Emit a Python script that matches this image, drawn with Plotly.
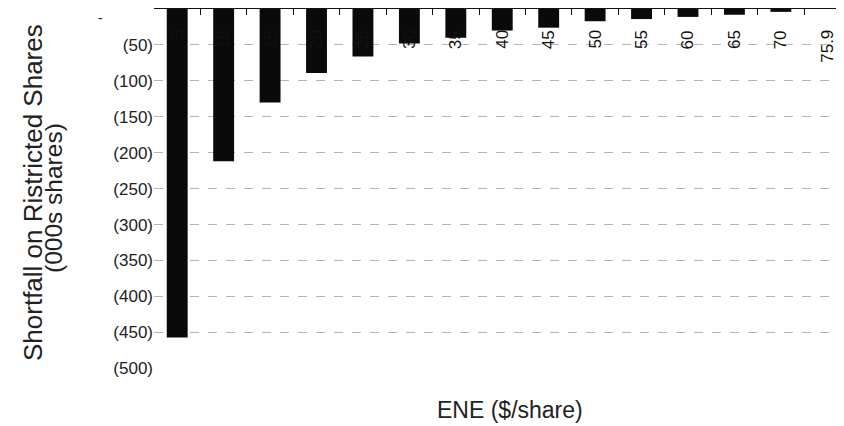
import plotly.graph_objects as go

categories = ["5", "10", "15", "20", "25", "30", "35", "40", "45", "50", "55", "60", "65", "70", "75.9"]
shortfall = [-457, -212, -130, -89, -66, -48, -40, -30, -26, -17, -14, -11, -8, -4, 0]

y_tickvals = [-50, -100, -150, -200, -250, -300, -350, -400, -450, -500]
y_ticktext = ["(50)", "(100)", "(150)", "(200)", "(250)",
              "(300)", "(350)", "(400)", "(450)", "(500)"]
y_zero_value = 0
y_zero_text = "-"

x_title = "ENE ($/share)"
y_title_1 = "Shortfall on Ristricted Shares"
y_title_2 = "(000s shares)"

font_family = "Liberation Sans, Arial, sans-serif"

# the page body adds an 8px offset; size the figure to fill the rest of the window
OFF = 8
W, H = 844 - OFF, 426 - OFF
L, R, T, B = 146, 0, 1, 57
pw, ph = W - L - R, H - T - B


def px_x(page_x):
    return (page_x - OFF - L) / pw


def px_y(page_y):
    return 1 - (page_y - OFF - T) / ph


fig = go.Figure(go.Bar(
    x=categories, y=shortfall,
    marker=dict(color="#0a0a0a", line=dict(width=0)),
))

annotations = []
# category labels, rotated, hanging just below the zero axis line
for i, c in enumerate(categories):
    annotations.append(dict(
        x=i, y=0, xref="x", yref="y", text=c, textangle=-90,
        xanchor="center", yanchor="top", yshift=-19, showarrow=False,
        font=dict(size=17, color="#111", family=font_family),
    ))

# zero label of the value axis (accounting style dash)
annotations.append(dict(
    x=px_x(100), y=y_zero_value, xref="paper", yref="y", text=y_zero_text,
    xanchor="center", yanchor="top", yshift=1, showarrow=False,
    font=dict(size=14, color="#222", family=font_family),
))

annotations.append(dict(
    text=x_title, xref="paper", yref="paper",
    x=px_x(510), y=px_y(410), xanchor="center", yanchor="middle",
    showarrow=False, font=dict(size=23, color="#222", family=font_family),
))
annotations.append(dict(
    text=y_title_1, xref="paper", yref="paper", textangle=-90,
    x=px_x(33), y=px_y(193), xanchor="center", yanchor="middle",
    showarrow=False, font=dict(size=26, color="#222", family=font_family),
))
annotations.append(dict(
    text=y_title_2, xref="paper", yref="paper", textangle=-90,
    x=px_x(53), y=px_y(198), xanchor="center", yanchor="middle",
    showarrow=False, font=dict(size=24.5, color="#222", family=font_family),
))

fig.update_layout(
    width=W, height=H,
    margin=dict(l=L, r=R, t=T, b=B),
    paper_bgcolor="white", plot_bgcolor="white",
    bargap=0.55,
    showlegend=False,
    font=dict(family=font_family, color="#222"),
    xaxis=dict(
        type="category",
        side="top",
        range=[-0.5, 14.36],
        automargin=False,
        showline=True, linecolor="#111", linewidth=1,
        ticks="inside", ticklen=6, tickcolor="#111", tickson="boundaries",
        showticklabels=False,
        showgrid=False,
        zeroline=False,
    ),
    yaxis=dict(
        range=[-501, 0],
        automargin=False,
        tickvals=y_tickvals, ticktext=y_ticktext,
        tickfont=dict(size=17, color="#222", family=font_family),
        showgrid=True, gridcolor="#b5b5b5", gridwidth=1, griddash="dash",
        zeroline=False, showline=False, ticks="",
    ),
    annotations=annotations,
)

fig.write_html("out.html")
